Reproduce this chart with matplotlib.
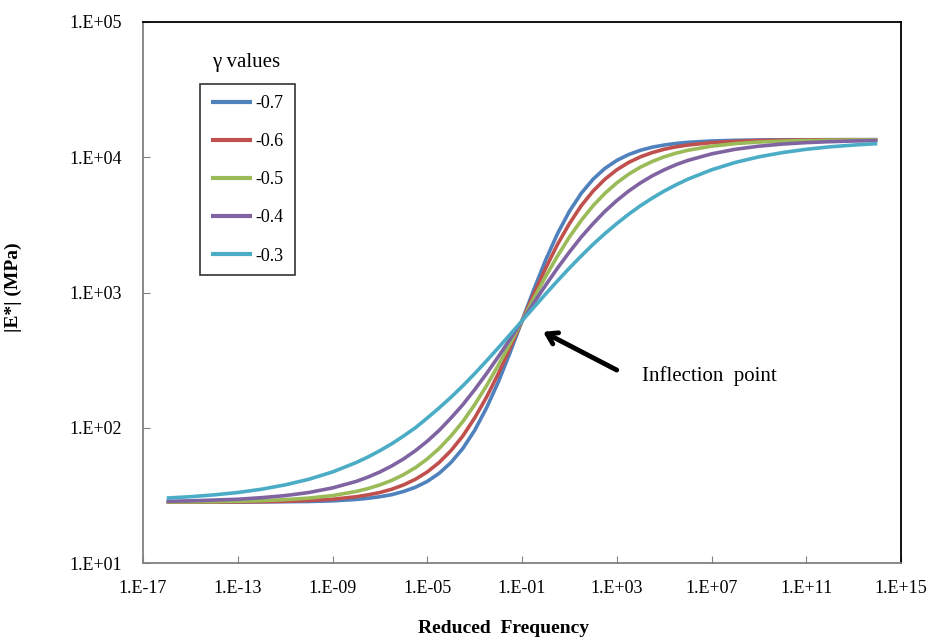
import matplotlib
matplotlib.use('Agg')
import matplotlib.pyplot as plt
import numpy as np

# reduced frequency (log10): one point per decade on the flat ends,
# half decades through the steep middle part
LOG_FREQ = ([-16, -15, -14, -13, -12, -11, -10, -9]
            + [-8 + 0.5*i for i in range(29)]
            + [7, 8, 9, 10, 11, 12, 13, 14])

GAMMA_LABELS = ['-0.7', '-0.6', '-0.5', '-0.4', '-0.3']
COLORS = ['#4F81BD', '#C0504D', '#9BBB59', '#8064A2', '#4BACC6']

# |E*| (MPa)
E_07 = [28.2, 28.2, 28.2, 28.2, 28.3, 28.4, 28.5, 28.8,
        29.5, 30.1, 30.9, 32.0, 33.8, 36.3, 40.1, 46.0, 55.3, 70.2, 95.5, 140, 218, 361, 617,
        1052, 1741, 2725, 3980, 5410, 6880, 8270, 9470, 10470, 11260, 11870, 12310, 12650, 12890,
        13190, 13340, 13420, 13460, 13470, 13480, 13490, 13490]
E_06 = [28.2, 28.2, 28.2, 28.3, 28.4, 28.6, 29.0, 29.6,
        30.9, 31.9, 33.2, 35.1, 37.8, 41.6, 47.1, 55.3, 67.7, 86.9, 118, 168, 251, 390, 617,
        976, 1515, 2270, 3230, 4380, 5620, 6880, 8070, 9150, 10070, 10830, 11450, 11940, 12310,
        12830, 13120, 13290, 13380, 13430, 13460, 13470, 13480]
E_05 = [28.3, 28.3, 28.4, 28.6, 28.9, 29.4, 30.2, 31.5,
        33.8, 35.5, 37.8, 40.8, 45.0, 50.7, 58.8, 70.2, 86.9, 111, 148, 204, 290, 420, 617,
        905, 1313, 1863, 2570, 3410, 4380, 5410, 6460, 7490, 8450, 9310, 10070, 10720, 11260,
        12070, 12610, 12950, 13160, 13290, 13370, 13420, 13450]
E_04 = [28.6, 28.8, 29.2, 29.6, 30.4, 31.5, 33.2, 35.9,
        40.1, 43.2, 47.1, 52.2, 58.8, 67.7, 79.5, 95.5, 118, 148, 191, 251, 335, 453, 617,
        839, 1134, 1515, 1990, 2570, 3230, 3980, 4780, 5620, 6460, 7290, 8070, 8810, 9470,
        10590, 11450, 12070, 12520, 12830, 13040, 13190, 13290]
E_03 = [30.2, 30.9, 31.9, 33.2, 35.1, 37.8, 41.6, 47.1,
        55.3, 60.8, 67.7, 76.1, 86.9, 100, 118, 140, 168, 204, 251, 312, 390, 490, 617,
        777, 976, 1220, 1515, 1863, 2270, 2725, 3230, 3790, 4380, 4990, 5620, 6250, 6880,
        8070, 9150, 10070, 10830, 11450, 11940, 12310, 12610]

X_TICK_EXP = [-17, -13, -9, -5, -1, 3, 7, 11, 15]
Y_TICK_EXP = [1, 2, 3, 4, 5]

FONT = 'Liberation Serif'
FONTSIZE = 13

plt.rcParams['font.family'] = [FONT, 'DejaVu Serif']

fig = plt.figure(figsize=(9.44, 6.4), dpi=100)
ax = fig.add_axes([143/944, 1-563/640, 758/944, 541/640])

freq = [10.0**e for e in LOG_FREQ]
for vals, lab, col in zip([E_07, E_06, E_05, E_04, E_03], GAMMA_LABELS, COLORS):
    ax.plot(freq, vals, color=col, lw=2.6, label=lab, solid_capstyle='butt',
            solid_joinstyle='round')

ax.set_xscale('log')
ax.set_yscale('log')
ax.set_xlim(1e-17, 1e15)
ax.set_ylim(1e1, 1e5)

def exp_label(e):
    if e < 0:
        return '1.E-%02d' % -e
    return '1.E+%02d' % e

ax.set_xticks([10.0**e for e in X_TICK_EXP])
ax.set_xticklabels([exp_label(e) for e in X_TICK_EXP], fontsize=FONTSIZE)
ax.set_yticks([10.0**e for e in Y_TICK_EXP])
ax.set_yticklabels([exp_label(e) for e in Y_TICK_EXP], fontsize=FONTSIZE)
ax.minorticks_off()
ax.tick_params(axis='x', direction='in', length=5, pad=12, colors='#808080', labelcolor='black')
ax.tick_params(axis='y', direction='in', length=5, pad=15, colors='#808080', labelcolor='black')

for s in ['left', 'bottom']:
    ax.spines[s].set_color('#808080')
    ax.spines[s].set_linewidth(1.3)
for s in ['top', 'right']:
    ax.spines[s].set_color('black')
    ax.spines[s].set_linewidth(1.3)

ax.set_xlabel('Reduced  Frequency', fontsize=14, fontweight='bold')
ax.xaxis.set_label_coords((503-143)/758, -(620-563)/541)
ax.set_ylabel('|E*| (MPa)', fontsize=14, fontweight='bold')
ax.yaxis.set_label_coords(-(143-22)/758, (563-287)/541)

leg = ax.legend(loc='upper left', bbox_to_anchor=(0.075, 0.885), borderaxespad=0,
                fontsize=FONTSIZE, frameon=True, fancybox=False, handlelength=2.3,
                handletextpad=0.2, labelspacing=1.17, borderpad=0.6)
leg.get_frame().set_edgecolor('black')
leg.get_frame().set_linewidth(1.2)
for ln in leg.get_lines():
    ln.set_linewidth(3)

ax.text((246-143)/758, (563-62)/541, 'γ values', transform=ax.transAxes, fontsize=15,
        ha='center', va='center')

ax.annotate('', xy=(10**-0.11, 512), xytext=(10**3.0, 267),
            arrowprops=dict(arrowstyle='->,head_length=0.7,head_width=0.45', lw=3.5,
                            color='black', shrinkA=0, shrinkB=0))
ax.text(10**4.06, 241, 'Inflection  point', fontsize=15, ha='left', va='center')

plt.savefig('out.png', dpi=100)
